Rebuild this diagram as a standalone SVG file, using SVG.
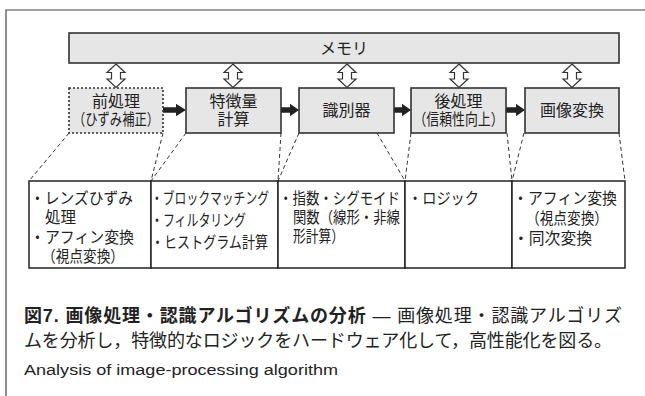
<svg xmlns="http://www.w3.org/2000/svg" width="645" height="396" viewBox="0 0 645 396">
<style>
.jp{font-family:"Liberation Sans","Noto Sans CJK JP",sans-serif;fill:#222;}
.bx{font-size:16px;}
.tb{font-size:16px;}
.c{text-anchor:middle;dominant-baseline:central;}
.l{dominant-baseline:central;}
.box{fill:#e6e6e6;stroke:#333;stroke-width:1.6;}
.cell{fill:#fff;stroke:#222;stroke-width:1.5;}
.dash{stroke:#333;stroke-width:1;stroke-dasharray:4 3;fill:none;}
.frame{stroke:#444;stroke-width:1.2;fill:none;}
.dbl{fill:#fff;stroke:#333;stroke-width:1.2;}
.blk{fill:#222;}
</style>
<defs>
<path id="dblarrow" d="M0,0 L9,8.5 L4.5,8.5 L4.5,15 L9,15 L0,23.5 L-9,15 L-4.5,15 L-4.5,8.5 L-9,8.5 Z"/>
</defs>
<g id="frame">
<polyline class="frame" points="6,396 6,10 645,10"/>
</g>
<g id="connectors">
<use href="#dblarrow" class="dbl" x="116" y="64"/>
<use href="#dblarrow" class="dbl" x="233" y="64"/>
<use href="#dblarrow" class="dbl" x="347" y="64"/>
<use href="#dblarrow" class="dbl" x="459" y="64"/>
<use href="#dblarrow" class="dbl" x="572" y="64"/>
<path class="blk" d="M163,107.2 L176,107.2 L176,103.8 L186,110 L176,116.2 L176,112.8 L163,112.8 Z"/>
<path class="blk" d="M281,107.2 L290,107.2 L290,103.8 L299,110 L290,116.2 L290,112.8 L281,112.8 Z"/>
<path class="blk" d="M394,107.2 L402,107.2 L402,103.8 L411,110 L402,116.2 L402,112.8 L394,112.8 Z"/>
<path class="blk" d="M506,107.2 L516,107.2 L516,103.8 L525,110 L516,116.2 L516,112.8 L506,112.8 Z"/>
<line class="dash" x1="69" y1="133" x2="29" y2="181"/>
<line class="dash" x1="163" y1="133" x2="151" y2="181"/>
<line class="dash" x1="186" y1="133" x2="151" y2="181"/>
<line class="dash" x1="281" y1="133" x2="278" y2="181"/>
<line class="dash" x1="299" y1="133" x2="278" y2="181"/>
<line class="dash" x1="377" y1="133" x2="405" y2="181"/>
<line class="dash" x1="411" y1="133" x2="405" y2="181"/>
<line class="dash" x1="507" y1="133" x2="512" y2="181"/>
<line class="dash" x1="524" y1="133" x2="512" y2="181"/>
<line class="dash" x1="619" y1="133" x2="625" y2="181"/>
</g>
<g id="memory">
<rect class="box" x="69" y="33" width="550" height="30"/>
<text class="jp bx c" x="344" y="48">メモリ</text>
</g>
<g id="preprocess">
<rect x="69" y="88" width="94" height="45" fill="#e6e6e6" stroke="#333" stroke-width="1.6" stroke-dasharray="2 2"/>
<text class="jp bx c"><tspan x="116" y="100.5">前処理</tspan><tspan x="116" y="119" textLength="86" lengthAdjust="spacingAndGlyphs">（ひずみ補正）</tspan></text>
</g>
<g id="feature">
<rect class="box" x="186" y="88" width="95" height="45"/>
<text class="jp bx c"><tspan x="233.5" y="100.5">特徴量</tspan><tspan x="233.5" y="119">計算</tspan></text>
</g>
<g id="classifier">
<rect class="box" x="299" y="88" width="95" height="45"/>
<text class="jp bx c" x="346.5" y="110">識別器</text>
</g>
<g id="postprocess">
<rect class="box" x="411" y="88" width="95" height="45"/>
<text class="jp bx c"><tspan x="458.5" y="100.5">後処理</tspan><tspan x="458.5" y="119" textLength="90" lengthAdjust="spacingAndGlyphs">（信頼性向上）</tspan></text>
</g>
<g id="imagetransform">
<rect class="box" x="525" y="88" width="94" height="45"/>
<text class="jp bx c" x="572" y="110">画像変換</text>
</g>
<g id="table">
<rect class="cell" x="29" y="181" width="122" height="87"/>
<rect class="cell" x="151" y="181" width="127" height="87"/>
<rect class="cell" x="278" y="181" width="127" height="87"/>
<rect class="cell" x="405" y="181" width="107" height="87"/>
<rect class="cell" x="512" y="181" width="113" height="87"/>
</g>
<g id="cell1">
<text class="jp tb l"><tspan x="30" y="198" textLength="103" lengthAdjust="spacingAndGlyphs">・レンズひずみ</tspan><tspan x="45" y="217" textLength="31" lengthAdjust="spacingAndGlyphs">処理</tspan><tspan x="30" y="237" textLength="104" lengthAdjust="spacingAndGlyphs">・アフィン変換</tspan><tspan x="42" y="256" textLength="82" lengthAdjust="spacingAndGlyphs">（視点変換）</tspan></text>
</g>
<g id="cell2">
<text class="jp tb l"><tspan x="151" y="198" textLength="118" lengthAdjust="spacingAndGlyphs">・ブロックマッチング</tspan><tspan x="151" y="220" textLength="95" lengthAdjust="spacingAndGlyphs">・フィルタリング</tspan><tspan x="151" y="242" textLength="117" lengthAdjust="spacingAndGlyphs">・ヒストグラム計算</tspan></text>
</g>
<g id="cell3">
<text class="jp tb l"><tspan x="279" y="198" textLength="121" lengthAdjust="spacingAndGlyphs">・指数・シグモイド</tspan><tspan x="293" y="217" textLength="107" lengthAdjust="spacingAndGlyphs">関数（線形・非線</tspan><tspan x="293" y="236" textLength="51" lengthAdjust="spacingAndGlyphs">形計算）</tspan></text>
</g>
<g id="cell4">
<text class="jp tb l" x="408" y="198" textLength="71" lengthAdjust="spacingAndGlyphs">・ロジック</text>
</g>
<g id="cell5">
<text class="jp tb l"><tspan x="513" y="198" textLength="104" lengthAdjust="spacingAndGlyphs">・アフィン変換</tspan><tspan x="526" y="218" textLength="82" lengthAdjust="spacingAndGlyphs">（視点変換）</tspan><tspan x="513" y="238" textLength="79" lengthAdjust="spacingAndGlyphs">・同次変換</tspan></text>
</g>
<g id="caption">
<text class="jp" font-size="18"><tspan x="24" y="322" textLength="598" lengthAdjust="spacing"><tspan font-weight="bold">図7.  画像処理・認識アルゴリズムの分析</tspan> — 画像処理・認識アルゴリズ</tspan><tspan x="24" y="347" textLength="588" lengthAdjust="spacing">ムを分析し，特徴的なロジックをハードウェア化して，高性能化を図る。</tspan></text>
<text x="24" y="375" font-family="Liberation Sans, Arial, sans-serif" font-size="15.5" fill="#222" textLength="314" lengthAdjust="spacingAndGlyphs">Analysis of image-processing algorithm</text>
</g>
</svg>
